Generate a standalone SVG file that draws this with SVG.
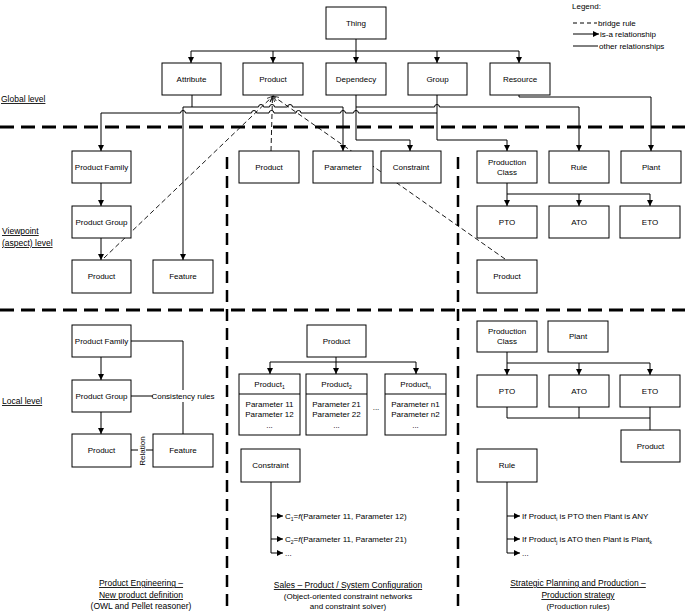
<svg xmlns="http://www.w3.org/2000/svg" width="685" height="612" viewBox="0 0 685 612">
<defs>
<marker id="ar" viewBox="0 0 10 10" refX="10" refY="5" markerWidth="6" markerHeight="6" orient="auto" markerUnits="userSpaceOnUse"><path d="M0,0 L10,5 L0,10 z" fill="#000"/></marker>
<marker id="oa" viewBox="0 0 10 10" refX="10" refY="5" markerWidth="6" markerHeight="6" orient="auto" markerUnits="userSpaceOnUse"><path d="M0,1 L10,5 L0,9" fill="none" stroke="#000" stroke-width="1.2"/></marker>
<style>
rect{fill:#fff;stroke:#000;stroke-width:1}
text{font-family:"Liberation Sans",Arial,sans-serif;font-size:8px;fill:#000}
.c{text-anchor:middle}
.ln{fill:none;stroke:#000;stroke-width:1}
.arr{fill:none;stroke:#000;stroke-width:1;marker-end:url(#ar)}
.dsh{fill:none;stroke:#000;stroke-width:0.9;stroke-dasharray:5 3}
.sep{fill:none;stroke:#000;stroke-width:3;stroke-dasharray:14 7}
.vsep{fill:none;stroke:#000;stroke-width:2.5;stroke-dasharray:12 7}
.lvl{font-size:8.5px;text-decoration:underline}
.hd{font-size:8.5px;text-anchor:middle}
.u{text-decoration:underline}
</style>
</defs>

<g id="separators">
<line class="sep" x1="0" y1="127" x2="685" y2="127"/>
<line class="sep" x1="0" y1="310" x2="685" y2="310"/>
<line class="vsep" x1="227" y1="157" x2="227" y2="612"/>
<line class="vsep" x1="458" y1="157" x2="458" y2="612"/>
</g>

<g id="labels">
<text class="lvl" x="1" y="102">Global level</text>
<text class="lvl" x="2" y="234">Viewpoint</text>
<text class="lvl" x="2" y="246">(aspect) level</text>
<text class="lvl" x="2" y="404">Local level</text>
<text class="hd u" x="141" y="586">Product Engineering –</text>
<text class="hd u" x="141" y="598">New product definition</text>
<text class="hd" x="141" y="609">(OWL and Pellet reasoner)</text>
<text class="hd u" x="348" y="588">Sales – Product / System Configuration</text>
<text class="c" x="348" y="599" font-size="7.5">(Object-oriented constraint networks</text>
<text class="c" x="348" y="609" font-size="7.5">and constraint solver)</text>
<text class="hd u" x="578" y="586">Strategic Planning and Production –</text>
<text class="hd u" x="578" y="598">Production strategy</text>
<text class="c" x="578" y="609" font-size="7.5">(Production rules)</text>
</g>

<g id="legend">
<text x="572" y="9">Legend:</text>
<line class="ln" x1="573" y1="23" x2="597" y2="23" stroke-dasharray="4 3"/>
<text x="598" y="26">bridge rule</text>
<line class="arr" x1="573" y1="34" x2="599" y2="34"/>
<text x="600" y="37">is-a relationship</text>
<line class="ln" x1="573" y1="46" x2="598" y2="46"/>
<text x="599" y="49">other relationships</text>
</g>

<g id="connectors">
<!-- Thing to children -->
<path class="ln" d="M356,39 V51 M191,51 H519"/>
<line class="arr" x1="191" y1="51" x2="191" y2="63"/>
<line class="arr" x1="273" y1="51" x2="273" y2="63"/>
<line class="arr" x1="356" y1="51" x2="356" y2="63"/>
<line class="arr" x1="437" y1="51" x2="437" y2="63"/>
<line class="arr" x1="519" y1="51" x2="519" y2="63"/>
<!-- Attribute -> Feature, Parameter -->
<path class="ln" d="M192,95 V107 M183,107 H258.5 a2.5,2.5 0 0 1 5,0 H269.5 a2.5,2.5 0 0 1 5,0 H287.5 a2.5,2.5 0 0 1 5,0 H343"/>
<line class="arr" x1="183" y1="107" x2="183" y2="260"/>
<line class="arr" x1="343" y1="107" x2="343" y2="151"/>
<!-- Group -> Product Family -->
<path class="ln" d="M101,113 H180.5 a2.5,2.5 0 0 1 5,0 H251.5 a2.5,2.5 0 0 1 5,0 H269 a2.5,2.5 0 0 1 5,0 H296 a2.5,2.5 0 0 1 5,0 H340.5 a2.5,2.5 0 0 1 5,0 H353.5 a2.5,2.5 0 0 1 5,0 H437"/>
<line class="arr" x1="101" y1="113" x2="101" y2="151"/>
<!-- Dependency -> Constraint, Rule -->
<path class="arr" d="M356,95 V140 H410 V151"/>
<path class="ln" d="M356,107 H434.5 a2.5,2.5 0 0 1 5,0 H579"/>
<line class="arr" x1="579" y1="107" x2="579" y2="151"/>
<!-- Group -> Production Class -->
<path class="arr" d="M437,95 V140 H507 V151"/>
<!-- Resource -> Plant -->
<path class="arr" d="M519,95 V97 H651 V151"/>
<!-- bridge rules -->
<line class="dsh" x1="104" y1="258" x2="273" y2="96" marker-end="url(#oa)"/>
<line class="dsh" x1="271" y1="151" x2="272.5" y2="96" marker-end="url(#oa)"/>
<line class="dsh" x1="505" y1="259" x2="273" y2="96" marker-end="url(#oa)"/>
<!-- viewpoint left -->
<line class="arr" x1="101" y1="183" x2="101" y2="206"/>
<line class="arr" x1="101" y1="238" x2="101" y2="260"/>
<!-- viewpoint right -->
<path class="ln" d="M507,183 V194 M507,194 H650"/>
<line class="arr" x1="507" y1="194" x2="507" y2="206"/>
<line class="arr" x1="579" y1="194" x2="579" y2="206"/>
<line class="arr" x1="650" y1="194" x2="650" y2="206"/>
<!-- local left -->
<line class="arr" x1="101" y1="357" x2="101" y2="380"/>
<line class="arr" x1="101" y1="412" x2="101" y2="434"/>
<path class="ln" d="M131,341 H183 V390 M183,402 V434 M131,396 H153"/>
<path class="ln" d="M131,450 H138 M146,450 H153"/>
<!-- local middle -->
<path class="ln" d="M336,357 V362 M270,362 H416"/>
<line class="arr" x1="270" y1="362" x2="270" y2="374"/>
<line class="arr" x1="336" y1="362" x2="336" y2="374"/>
<line class="arr" x1="416" y1="362" x2="416" y2="374"/>
<path class="ln" d="M271,482 V553"/>
<line class="arr" x1="271" y1="516" x2="283" y2="516"/>
<line class="arr" x1="271" y1="539" x2="283" y2="539"/>
<line class="arr" x1="271" y1="553" x2="283" y2="553"/>
<!-- local right -->
<path class="ln" d="M507,352 V363 M507,363 H650"/>
<line class="arr" x1="507" y1="363" x2="507" y2="375"/>
<line class="arr" x1="579" y1="363" x2="579" y2="375"/>
<line class="arr" x1="650" y1="363" x2="650" y2="375"/>
<path class="ln" d="M507,407 V418 H650 M579,407 V418 M650,407 V430"/>
<path class="ln" d="M507,482 V553"/>
<line class="arr" x1="507" y1="516" x2="520" y2="516"/>
<line class="arr" x1="507" y1="539" x2="520" y2="539"/>
<line class="arr" x1="507" y1="553" x2="520" y2="553"/>
</g>

<!-- Global level -->
<g id="thing"><rect x="326" y="7" width="60" height="32"/><text class="c" x="356" y="26">Thing</text></g>
<g id="attribute"><rect x="162" y="63" width="59" height="32"/><text class="c" x="191.5" y="82">Attribute</text></g>
<g id="product-g"><rect x="243" y="63" width="60" height="32"/><text class="c" x="273" y="82">Product</text></g>
<g id="dependecy"><rect x="326" y="63" width="60" height="32"/><text class="c" x="356" y="82">Dependecy</text></g>
<g id="group"><rect x="408" y="63" width="59" height="32"/><text class="c" x="437.5" y="82">Group</text></g>
<g id="resource"><rect x="490" y="63" width="60" height="32"/><text class="c" x="520" y="82">Resource</text></g>

<!-- Viewpoint level -->
<g id="vp-product-family"><rect x="72" y="151" width="59" height="32"/><text class="c" x="101.5" y="170">Product Family</text></g>
<g id="vp-product-group"><rect x="72" y="206" width="59" height="32"/><text class="c" x="101.5" y="225">Product Group</text></g>
<g id="vp-product-1"><rect x="72" y="260" width="59" height="33"/><text class="c" x="101.5" y="279">Product</text></g>
<g id="vp-feature"><rect x="153" y="260" width="60" height="33"/><text class="c" x="183" y="279">Feature</text></g>
<g id="vp-product-2"><rect x="239" y="151" width="60" height="32"/><text class="c" x="269" y="170">Product</text></g>
<g id="vp-parameter"><rect x="313" y="151" width="60" height="32"/><text class="c" x="343" y="170">Parameter</text></g>
<g id="vp-constraint"><rect x="381" y="151" width="60" height="32"/><text class="c" x="411" y="170">Constraint</text></g>
<g id="vp-production-class"><rect x="477" y="151" width="60" height="32"/><text class="c" x="507" y="165">Production</text><text class="c" x="507" y="175">Class</text></g>
<g id="vp-rule"><rect x="549" y="151" width="60" height="32"/><text class="c" x="579" y="170">Rule</text></g>
<g id="vp-plant"><rect x="621" y="151" width="60" height="32"/><text class="c" x="651" y="170">Plant</text></g>
<g id="vp-pto"><rect x="477" y="206" width="60" height="32"/><text class="c" x="507" y="225">PTO</text></g>
<g id="vp-ato"><rect x="549" y="206" width="60" height="32"/><text class="c" x="579" y="225">ATO</text></g>
<g id="vp-eto"><rect x="620" y="206" width="60" height="32"/><text class="c" x="650" y="225">ETO</text></g>
<g id="vp-product-3"><rect x="477" y="260" width="60" height="33"/><text class="c" x="507" y="279">Product</text></g>

<!-- Local level left -->
<g id="l-product-family"><rect x="72" y="325" width="59" height="32"/><text class="c" x="101.5" y="344">Product Family</text></g>
<g id="l-product-group"><rect x="72" y="380" width="59" height="32"/><text class="c" x="101.5" y="399">Product Group</text></g>
<g id="l-product"><rect x="72" y="434" width="59" height="33"/><text class="c" x="101.5" y="453">Product</text></g>
<g id="l-feature"><rect x="153" y="434" width="60" height="33"/><text class="c" x="183" y="453">Feature</text></g>
<g id="l-consistency"><text class="c" x="183" y="399">Consistency rules</text></g>
<g id="l-relation"><text class="c" transform="translate(145 451) rotate(-90)" font-size="7.5">Relation</text></g>

<!-- Local level middle -->
<g id="l-product-m"><rect x="307" y="325" width="59" height="32"/><text class="c" x="336.5" y="344">Product</text></g>
<g id="l-product1"><rect x="239" y="374" width="61" height="61"/><line class="ln" x1="239" y1="394" x2="300" y2="394"/>
<text class="c" x="269.5" y="387">Product<tspan font-size="5" dy="1.5">1</tspan></text>
<text class="c" x="269.5" y="407">Parameter 11</text><text class="c" x="269.5" y="417">Parameter 12</text><text class="c" x="269.5" y="428" font-size="6">...</text></g>
<g id="l-product2"><rect x="306" y="374" width="61" height="61"/><line class="ln" x1="306" y1="394" x2="367" y2="394"/>
<text class="c" x="336.5" y="387">Product<tspan font-size="5" dy="1.5">2</tspan></text>
<text class="c" x="336.5" y="407">Parameter 21</text><text class="c" x="336.5" y="417">Parameter 22</text><text class="c" x="336.5" y="428" font-size="6">...</text></g>
<g id="l-dots"><text class="c" x="376" y="410" font-size="6">...</text></g>
<g id="l-productn"><rect x="385" y="374" width="61" height="61"/><line class="ln" x1="385" y1="394" x2="446" y2="394"/>
<text class="c" x="415.5" y="387">Product<tspan font-size="5" dy="1.5">n</tspan></text>
<text class="c" x="415.5" y="407">Parameter n1</text><text class="c" x="415.5" y="417">Parameter n2</text><text class="c" x="415.5" y="428" font-size="6">...</text></g>
<g id="l-constraint"><rect x="241" y="449" width="59" height="33"/><text class="c" x="270.5" y="468">Constraint</text></g>
<g id="l-constraint-rules">
<text x="285" y="519">C<tspan font-size="5" dy="1.5">1</tspan><tspan dy="-1.5">=</tspan><tspan font-style="italic">f</tspan>(Parameter 11, Parameter 12)</text>
<text x="285" y="542">C<tspan font-size="5" dy="1.5">2</tspan><tspan dy="-1.5">=</tspan><tspan font-style="italic">f</tspan>(Parameter 11, Parameter 21)</text>
<text x="285" y="556" font-size="6">...</text>
</g>

<!-- Local level right -->
<g id="l-production-class"><rect x="477" y="321" width="60" height="31"/><text class="c" x="507" y="334">Production</text><text class="c" x="507" y="344">Class</text></g>
<g id="l-plant"><rect x="548" y="321" width="60" height="31"/><text class="c" x="578" y="339">Plant</text></g>
<g id="l-pto"><rect x="477" y="375" width="60" height="32"/><text class="c" x="507" y="394">PTO</text></g>
<g id="l-ato"><rect x="549" y="375" width="60" height="32"/><text class="c" x="579" y="394">ATO</text></g>
<g id="l-eto"><rect x="620" y="375" width="60" height="32"/><text class="c" x="650" y="394">ETO</text></g>
<g id="l-product-r"><rect x="621" y="430" width="59" height="32"/><text class="c" x="650.5" y="449">Product</text></g>
<g id="l-rule"><rect x="477" y="449" width="60" height="33"/><text class="c" x="507" y="468">Rule</text></g>
<g id="l-production-rules">
<text x="522" y="519">If Product<tspan font-size="5" dy="1.5">i</tspan><tspan dy="-1.5"> is PTO then Plant is ANY</tspan></text>
<text x="522" y="542">If Product<tspan font-size="5" dy="1.5">j</tspan><tspan dy="-1.5"> is ATO then Plant is Plant</tspan><tspan font-size="5" dy="1.5">k</tspan></text>
<text x="522" y="556" font-size="6">...</text>
</g>
</svg>
